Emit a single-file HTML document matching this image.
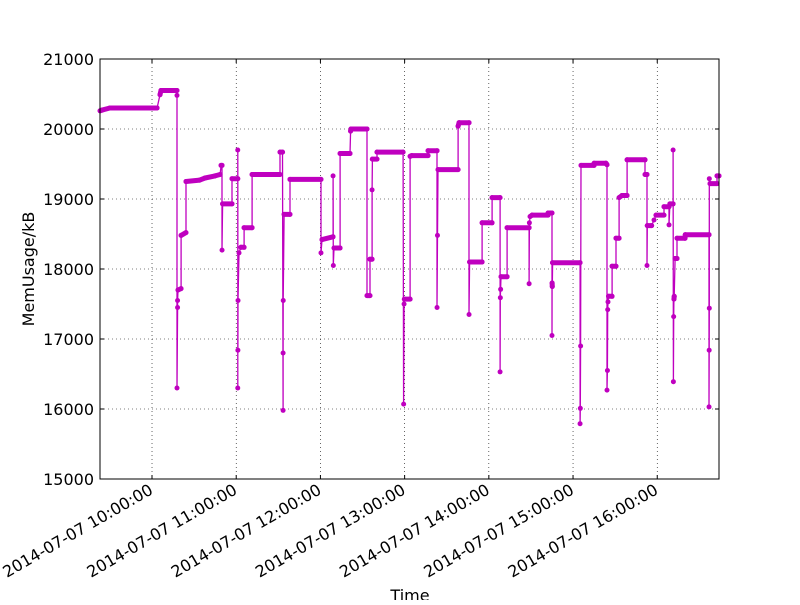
<!DOCTYPE html>
<html><head><meta charset="utf-8"><style>
body{margin:0;background:#fff;width:800px;height:600px;overflow:hidden}
svg text{font-family:"DejaVu Sans","Liberation Sans",sans-serif;font-size:16px;fill:#000}
</style></head><body>
<svg id="chart" width="800" height="600" viewBox="0 0 800 600" xmlns="http://www.w3.org/2000/svg">
<rect x="0" y="0" width="800" height="600" fill="#fff"/>
<g id="grid"></g>
<g id="series"></g>
<rect x="100" y="59" width="619" height="420" fill="none" stroke="#000" stroke-width="1"/>
<g id="axes"></g>
<text transform="translate(34,269) rotate(-90)" text-anchor="middle">MemUsage/kB</text>
<text x="410" y="601" text-anchor="middle">Time</text>
</svg>
<script>
// minutes since 09:00
const times=[23,24.4,30,63.6,65.7,66.4,77.8,77.8,77.8,78.2,78.2,78.5,80.7,80.7,84.2,84.2,94,97.8,104.9,108.5,109.2,109.9,109.9,110.3,117,117,121.1,121.1,121.1,121.2,121.3,122,123.4,125.6,125.6,131.3,131.3,151.2,151.2,153,153.4,153.4,153.5,154.1,158.3,158.3,180.4,180.4,181.1,189,189,189.2,189.7,194,194,201.1,201.5,201.8,213.2,213.2,215.3,215.3,216.8,216.8,217,220.3,220.3,238.9,239.3,239.6,239.8,243.9,243.9,245,256.7,256.7,263.1,263.1,263.4,263.8,278.1,278.1,278.8,285.9,285.9,286.3,295.2,295.2,302.3,302.3,308,308,308.2,308.4,308.7,313,313,328.7,328.7,328.9,329.4,330.8,342.2,342.2,345,345,345.1,345.2,345.4,365,365,365.2,365.4,365.7,375,375,383.5,384.2,384.2,384.5,384.7,384.9,385.3,387.8,387.8,390.6,390.6,392.8,392.8,394.9,398.5,398.5,411.3,411.3,412.7,412.7,412.9,416,417.7,419.1,424.8,424.8,428.4,428.4,429,431.3,431.3,431.5,431.7,431.9,432.1,432.7,434.1,434.1,439.8,440,456.9,456.9,457,457.1,457.1,457.6,462.6,462.6,464];
const values=[20260,20270,20300,20300,20490,20550,20550,20480,16300,17450,17550,17700,17720,18480,18520,19250,19270,19300,19330,19350,19480,19480,18270,18930,18930,19290,19290,16300,19700,16840,17550,18230,18310,18310,18590,18590,19350,19350,19670,19670,15980,16800,17550,18780,18780,19280,19280,18230,18420,18460,19330,18050,18300,18300,19650,19650,19970,20000,20000,17620,17620,18140,18140,19130,19570,19570,19670,19670,16070,17500,17570,17570,19610,19620,19620,19690,19690,17450,18480,19420,19420,20040,20090,20090,17350,18100,18100,18660,18660,19020,19020,16530,17590,17710,17890,17890,18590,18590,17790,18660,18750,18770,18770,18800,18800,17050,17800,17750,18090,18090,15790,16010,16900,19480,19480,19510,19510,19490,16270,16550,17420,17530,17610,17610,18040,18040,18440,18440,19020,19050,19050,19560,19560,19350,19350,18050,18620,18620,18700,18770,18770,18890,18890,18630,18930,18930,19700,16390,17320,17570,17610,18150,18150,18440,18440,18490,18490,16030,16840,17440,19290,19220,19220,19330,19330];
const yTicks=[15000,16000,17000,18000,19000,20000,21000];
const xTickMinutes=[60,120,180,240,300,360,420];
const xTickLabels=["2014-07-07 10:00:00","2014-07-07 11:00:00","2014-07-07 12:00:00","2014-07-07 13:00:00","2014-07-07 14:00:00","2014-07-07 15:00:00","2014-07-07 16:00:00"];

const NS="http://www.w3.org/2000/svg";
const X0=100,X1=719,Y0=59,Y1=479,TMIN=22.94,TMAX=464,VMIN=15000,VMAX=21000;
const xs=t=>X0+(t-TMIN)/(TMAX-TMIN)*(X1-X0);
const ys=v=>Y1-(v-VMIN)/(VMAX-VMIN)*(Y1-Y0);
function mk(tag,attrs,parent){const e=document.createElementNS(NS,tag);for(const k in attrs)e.setAttribute(k,attrs[k]);parent.appendChild(e);return e;}
const grid=document.getElementById('grid'),axes=document.getElementById('axes'),ser=document.getElementById('series');
yTicks.forEach(v=>{const y=ys(v);
 const g=mk('line',{x1:X0,x2:X1,y1:y,y2:y,stroke:'#000','stroke-width':0.6,'stroke-dasharray':'1,3'},grid);
 
 
 mk('line',{x1:X0,x2:X0+4,y1:y,y2:y,stroke:'#000'},axes);
 mk('line',{x1:X1-4,x2:X1,y1:y,y2:y,stroke:'#000'},axes);
 const t=mk('text',{x:94,y:y+6,'text-anchor':'end'},axes);t.textContent=v;
 
 
});
xTickMinutes.forEach((m,i)=>{const x=xs(m);
 const g=mk('line',{x1:x,x2:x,y1:Y0,y2:Y1,stroke:'#000','stroke-width':0.6,'stroke-dasharray':'1,3'},grid);
 
 
 mk('line',{x1:x,x2:x,y1:Y1,y2:Y1-4,stroke:'#000'},axes);
 mk('line',{x1:x,x2:x,y1:Y0,y2:Y0+4,stroke:'#000'},axes);
 const t=mk('text',{transform:`translate(${x+2},${Y1+14}) rotate(-30)`,'text-anchor':'end'},axes);t.textContent=xTickLabels[i];
 
 
});
const C='#bf00bf';
let d='';times.forEach((t,i)=>{d+=(i?'L':'M')+xs(t).toFixed(1)+','+ys(values[i]).toFixed(1);});
const line=mk('path',{d:d,fill:'none',stroke:C,'stroke-width':1.3},ser);


for(let i=1;i<times.length;i++){
 if(Math.abs(values[i]-values[i-1])<=60 && times[i]>times[i-1]){
  const seg=mk('line',{x1:xs(times[i-1]),x2:xs(times[i]),y1:ys(values[i-1]),y2:ys(values[i]),stroke:C,'stroke-width':5,'stroke-linecap':'round'},ser);
  
  
 }
}
times.forEach((t,i)=>{
 const c=mk('circle',{cx:xs(t),cy:ys(values[i]),r:2.5,fill:C},ser);
 
 
});
</script>
</body></html>
